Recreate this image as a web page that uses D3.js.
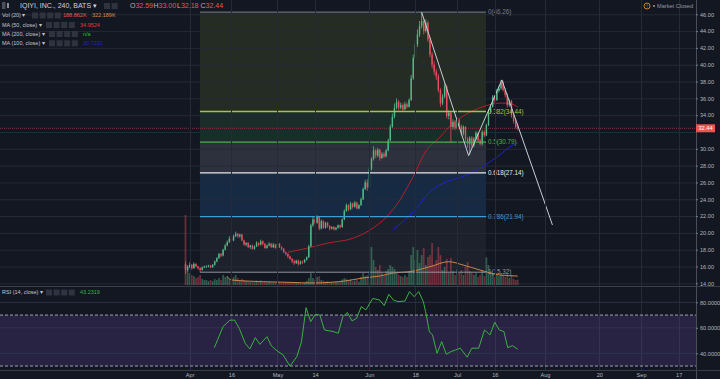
<!DOCTYPE html>
<html><head><meta charset="utf-8">
<script src="https://cdn.jsdelivr.net/npm/d3@7"></script>
<style>
html,body{margin:0;padding:0;background:#131722;overflow:hidden;}
svg{display:block;font-family:"Liberation Sans",Arial,sans-serif;}
</style></head><body>
<svg id="chart" width="720" height="379"></svg>
<script>
// ---------- DATA (240-minute bars, IQ on BATS) ----------
const opens = [16.3,15.6,15.9,16.2,15.8,16.3,16.0,15.8,15.6,15.9,
16.0,16.0,16.1,15.9,16.2,16.6,17.0,17.5,17.3,18.0,
18.5,18.9,19.3,19.1,19.6,19.9,19.6,19.8,19.1,18.6,
18.8,18.3,18.5,18.1,18.4,18.8,18.6,19.0,18.7,18.2,
18.5,18.7,18.3,18.6,18.2,18.7,18.3,18.1,17.7,17.5,
17.2,16.9,16.6,16.4,16.7,16.3,16.6,16.5,16.8,17.1,
18.4,20.9,21.6,21.2,21.9,20.5,21.4,20.6,21.2,20.8,
20.5,20.7,20.4,20.6,20.9,20.7,21.6,22.6,23.3,22.8,
23.5,23.1,23.6,22.9,23.3,24.0,25.2,26.0,25.4,27.6,
28.8,29.8,29.2,29.9,28.9,29.4,29.1,29.8,31.0,32.6,
33.8,34.9,35.6,34.9,35.2,34.7,35.3,35.0,35.8,38.4,
40.8,42.4,43.6,44.6,45.2,44.0,45.0,43.0,41.2,40.0,
39.2,38.6,37.0,35.4,36.2,37.4,33.9,34.3,32.6,33.2,
32.5,33.4,32.7,31.8,32.6,31.2,30.6,31.3,30.4,31.2,
31.9,31.0,30.6,32.0,31.6,32.8,34.4,35.0,36.2,35.8,
36.9,37.2,37.9,37.0,36.4,35.2,35.7,34.0,33.3,32.59];
const highs = [16.6,16.1,16.5,16.3,16.5,16.4,16.1,15.9,16.0,16.1,
16.15,16.2,16.2,16.3,16.7,17.1,17.6,17.6,18.1,18.7,
19.1,19.6,19.4,19.8,20.15,20.0,19.9,19.9,19.2,18.9,
18.9,18.6,18.6,18.5,19.0,18.9,19.2,19.1,18.8,18.6,
18.9,18.8,18.8,18.7,18.9,18.8,18.4,18.2,17.8,17.6,
17.3,17.0,16.8,16.8,16.8,16.7,16.7,16.9,17.2,18.6,
21.1,21.9,21.8,22.1,22.0,21.6,21.5,21.3,21.3,20.9,
20.8,20.8,20.7,21.0,21.0,21.7,22.8,23.5,23.4,23.7,
23.6,23.8,23.7,23.4,24.2,25.4,26.3,26.4,27.8,29.0,
30.3,30.0,30.1,30.0,29.6,29.6,30.0,31.2,32.9,34.2,
35.4,36.0,35.8,35.5,35.4,35.6,35.5,36.0,38.8,41.2,
42.9,44.2,45.2,46.26,45.5,45.4,45.2,43.3,41.5,40.4,
39.5,38.9,37.2,36.5,37.8,37.6,34.6,34.5,33.5,33.4,
33.7,33.6,32.9,32.8,32.7,31.4,31.5,31.5,31.4,32.1,
32.0,31.2,32.2,32.2,33.0,34.7,35.3,36.4,36.4,37.1,
37.5,38.2,38.1,37.2,36.6,35.9,35.8,34.2,33.5,33.0];
const lows = [15.1,15.4,15.8,15.6,15.7,15.9,15.6,15.32,15.5,15.8,
15.85,15.9,15.8,15.85,16.1,16.5,16.9,17.1,17.2,17.9,
18.4,18.8,18.9,19.0,19.5,19.4,19.4,19.0,18.5,18.4,
18.2,18.1,18.0,18.0,18.3,18.4,18.5,18.5,18.1,18.1,
18.4,18.2,18.2,18.1,18.1,18.2,17.9,17.6,17.3,17.0,
16.8,16.4,16.2,16.3,16.1,16.2,16.3,16.4,16.7,17.0,
18.3,20.7,21.0,21.1,20.3,20.4,20.5,20.5,20.6,20.3,
20.4,20.3,20.3,20.5,20.5,20.6,21.5,22.5,22.6,22.7,
22.9,23.0,22.8,22.8,23.2,23.9,25.1,25.0,25.3,27.4,
28.6,28.9,29.0,28.6,28.8,28.9,29.0,29.7,30.9,32.5,
33.6,34.7,34.6,34.7,34.5,34.6,34.8,34.9,35.7,38.2,
40.6,42.1,43.3,44.3,43.6,43.8,42.7,40.9,39.6,38.8,
38.2,36.7,35.0,35.2,36.0,33.6,33.5,30.8,32.3,32.2,
32.3,32.4,31.5,31.6,30.9,30.1,29.3,30.1,30.2,31.0,
30.8,30.4,30.4,31.4,31.5,32.7,34.2,34.9,35.5,35.7,
36.7,37.0,36.8,36.1,34.9,35.0,33.7,33.0,32.4,32.18];
const closes = [15.6,15.9,16.2,15.8,16.3,16.0,15.8,15.6,15.9,16.0,
16.0,16.1,15.9,16.2,16.6,17.0,17.5,17.3,18.0,18.5,
18.9,19.3,19.1,19.6,19.9,19.6,19.8,19.1,18.6,18.8,
18.3,18.5,18.1,18.4,18.8,18.6,19.0,18.7,18.2,18.5,
18.7,18.3,18.6,18.2,18.7,18.3,18.1,17.7,17.5,17.2,
16.9,16.6,16.4,16.7,16.3,16.6,16.5,16.8,17.1,18.4,
20.9,21.6,21.2,21.9,20.5,21.4,20.6,21.2,20.8,20.5,
20.7,20.4,20.6,20.9,20.7,21.6,22.6,23.3,22.8,23.5,
23.1,23.6,22.9,23.3,24.0,25.2,26.0,25.4,27.6,28.8,
29.8,29.2,29.9,28.9,29.4,29.1,29.8,31.0,32.6,33.8,
34.9,35.6,34.9,35.2,34.7,35.3,35.0,35.8,38.4,40.8,
42.4,43.6,44.6,45.2,44.0,45.0,43.0,41.2,40.0,39.2,
38.6,37.0,35.4,36.2,37.4,33.9,34.3,32.6,33.2,32.5,
33.4,32.7,31.8,32.6,31.2,30.6,31.3,30.4,31.2,31.9,
31.0,30.6,32.0,31.6,32.8,34.4,35.0,36.2,35.8,36.9,
37.2,37.9,37.0,36.4,35.2,35.7,34.0,33.3,32.59,32.44];
// volume, thousands of shares
const volumes = [2520,720,430,360,320,250,290,360,220,180,
180,140,180,140,220,180,250,180,360,290,
320,220,220,290,360,250,180,220,180,140,
150,110,130,100,160,120,170,110,140,90,
120,100,90,110,140,100,80,110,90,100,
110,80,90,70,100,60,70,80,150,250,
430,250,200,290,320,180,160,120,140,100,
110,90,120,100,130,200,250,220,150,200,
140,160,180,120,290,430,320,360,500,1370,
900,650,540,720,430,360,500,580,720,650,
580,430,360,320,290,360,290,500,1080,1370,
900,1260,790,1080,1330,720,1010,1080,1510,720,
900,1370,1080,540,650,940,430,970,500,360,
580,430,540,360,650,830,500,430,360,430,
290,360,500,320,1000,720,500,430,290,360,
320,430,360,290,430,250,360,220,180,188.862];
// indicator lines: [bar index, value]
const volMA = [[19.9,299],[22.2,180],[30,140],[37,119],[50,95],[61,72],[70,100],[76.3,144],[84.9,252],[93,324],[99.3,432],[107.4,479],[117,659],[126,839],[132.8,720],[140.9,540],[150.5,360],[159,322.189]];
const ma50 = [[49,17.7],[58,18.16],[67.6,18.76],[80,19.35],[88.3,20.34],[96.3,21.92],[102.6,23.9],[108.9,26.68],[115.4,29.85],[121.8,31.4],[128,33.06],[134.5,34.13],[142.3,35.0],[150.5,35.44],[155.3,35.4],[159,34.9524]];
const ma100 = [[99.4,20.4],[108.9,22.5],[118.4,25.2],[125.1,26.1],[132.8,26.7],[140.9,27.7],[150.5,29.3],[155,30.2],[159,30.7231]];
const rsi = [[13.8,44.4],[18,61],[21.3,66],[23.5,66],[25.7,59.6],[28.6,47.8],[30.8,43.4],[33.4,52.3],[35.6,47],[39,53],[41.1,45.8],[43.3,42.6],[46.7,38.7],[50,30],[53.3,37.4],[55.5,49],[57.7,75.8],[59.9,64.8],[62.1,70.6],[64.3,70],[66.5,58.3],[70.9,57],[73.1,55.7],[75.3,68.8],[77.5,72],[79.7,65.4],[81.9,67.5],[84.1,76.6],[86.3,74],[89.6,83],[92.9,81.8],[95.1,77.4],[97.3,86.3],[99.5,81.8],[101.7,80.5],[105,81],[107.2,88.4],[109.4,84.4],[111.6,88.4],[113.8,80.5],[114.9,72.7],[116.7,57],[118.2,54.4],[120.4,40],[122.6,49.2],[124.8,39.2],[127,41.3],[129.2,42.6],[131.5,44],[134.8,37],[137,44],[140.3,44],[143.1,58.3],[145.7,54.4],[148,64.3],[150.2,58.3],[152.4,57],[154.2,44.4],[156.4,46],[159,43.2319]];
const fibLevels = [0, 0.382, 0.5, 0.618, 0.786, 1];
const fibPrices = [46.26, 34.44, 30.79, 27.14, 21.94, 15.32];
const fibSpan = [6.9, 143.8];
const trendBars = [113, 135.5, 151.4, 175.6];
const trendPrices = [46.26, 29.18, 38.19, 20.94];
const priceTicks = [14,16,18,20,22,24,26,28,30,32,34,36,38,40,42,44,46];
const rsiTicks = [40,60,80];
const rsiBands = [30,70];
const tickBars = [2,22,44,62,88,110,130,148,172,198,218,236];
const tickLabels = ["Apr","16","May","14","Jun","18","Jul","16","Aug","20","Sep","17"];
const lastPrice = 32.44;

// ---------- STYLE ----------
const BG = "#131722", GRID = "#262a36", TXT = "#b2b5be";
const UP = "#53b987", DOWN = "#eb4d5c";
const fibLineColors = ["#787b86","#a8c63c","#4caf50","#e8e8e8","#3d9dd6","#8f929c"];
const fibZoneColors = ["rgba(165,200,60,0.12)","rgba(76,175,80,0.15)","rgba(150,150,168,0.2)","rgba(33,120,200,0.2)","rgba(120,123,134,0.1)"];
const fibLabelColors = ["#787b86","#a8c63c","#4caf50","#e8e8e8","#3d9dd6","#9598a1"];

const svg = d3.select("#chart");
const plotR = 696, mainBottom = 286, rsiTop = 287, rsiBottom = 370;

const x = d3.scaleLinear().domain([0, 244.3]).range([185.5, plotR]);
const y = d3.scaleLinear().domain([14, 46]).range([283.3, 14.3]);
const yVol = d3.scaleLinear().domain([0, 2520]).range([285, 215]);
const yRsi = d3.scaleLinear().domain([40, 80]).range([353.3, 302.3]);

svg.append("rect").attr("width",720).attr("height",379).attr("fill",BG);

const defs = svg.append("defs");
defs.append("clipPath").attr("id","mainClip").append("rect").attr("x",0).attr("y",0).attr("width",plotR).attr("height",mainBottom);
defs.append("clipPath").attr("id","rsiClip").append("rect").attr("x",0).attr("y",rsiTop).attr("width",plotR).attr("height",rsiBottom-rsiTop);

const main = svg.append("g").attr("clip-path","url(#mainClip)");

// fib zones
const fx0 = x(fibSpan[0]), fx1 = x(fibSpan[1]);
main.append("g").selectAll("rect").data(d3.range(fibPrices.length-1)).join("rect")
  .attr("x", fx0).attr("width", fx1-fx0)
  .attr("y", i => y(fibPrices[i])).attr("height", i => y(fibPrices[i+1]) - y(fibPrices[i]))
  .attr("fill", i => fibZoneColors[i]);

// grid
main.append("g").selectAll("line").data(priceTicks).join("line")
  .attr("x1",0).attr("x2",plotR).attr("y1",d=>y(d)+0.5).attr("y2",d=>y(d)+0.5)
  .attr("stroke",GRID).attr("stroke-width",1);
svg.append("g").selectAll("line").data(tickBars).join("line")
  .attr("x1",d=>Math.round(x(d))+0.5).attr("x2",d=>Math.round(x(d))+0.5).attr("y1",0).attr("y2",rsiBottom)
  .attr("stroke",GRID).attr("stroke-width",1);

// volume
const idx = d3.range(closes.length);
main.append("g").selectAll("rect").data(idx).join("rect")
  .attr("x", i => x(i)-0.85).attr("width",1.7)
  .attr("y", i => yVol(volumes[i])).attr("height", i => yVol(0)-yVol(volumes[i]))
  .attr("fill", i => closes[i] >= opens[i] ? "rgba(83,185,135,0.42)" : "rgba(235,77,92,0.42)");
main.append("path").datum(volMA)
  .attr("d", d3.line().x(d=>x(d[0])).y(d=>yVol(d[1])).curve(d3.curveMonotoneX))
  .attr("fill","none").attr("stroke","#c8894a").attr("stroke-width",1);

// last price line
main.append("line").attr("x1",0).attr("x2",plotR).attr("y1",y(lastPrice)).attr("y2",y(lastPrice))
  .attr("stroke","#8e2f3c").attr("stroke-width",1).attr("stroke-dasharray","1,1");

// moving averages
main.append("path").datum(ma50)
  .attr("d", d3.line().x(d=>x(d[0])).y(d=>y(d[1])).curve(d3.curveMonotoneX))
  .attr("fill","none").attr("stroke","#b3202a").attr("stroke-width",1);
main.append("path").datum(ma100)
  .attr("d", d3.line().x(d=>x(d[0])).y(d=>y(d[1])).curve(d3.curveMonotoneX))
  .attr("fill","none").attr("stroke","#2323c8").attr("stroke-width",1);

// candles
const cg = main.append("g");
cg.selectAll("line").data(idx).join("line")
  .attr("x1", i => x(i)).attr("x2", i => x(i))
  .attr("y1", i => y(highs[i])).attr("y2", i => y(lows[i]))
  .attr("stroke", i => closes[i] >= opens[i] ? UP : DOWN).attr("stroke-width",0.8);
cg.selectAll("rect").data(idx).join("rect")
  .attr("x", i => x(i)-0.7).attr("width",1.4)
  .attr("y", i => y(Math.max(opens[i],closes[i])))
  .attr("height", i => Math.max(0.8, Math.abs(y(opens[i])-y(closes[i]))))
  .attr("fill", i => closes[i] >= opens[i] ? UP : DOWN);

// fib lines + labels
main.append("g").selectAll("line").data(fibPrices).join("line")
  .attr("x1",fx0).attr("x2",fx1).attr("y1",d=>y(d)).attr("y2",d=>y(d))
  .attr("stroke",(d,i)=>fibLineColors[i]).attr("stroke-width",(d,i)=> i===0||i===5 ? 1 : 1.3);
main.append("g").selectAll("text").data(fibPrices).join("text")
  .attr("x",fx1+2).attr("y",d=>y(d)).attr("dy","0.35em")
  .attr("font-size",6.3).attr("fill",(d,i)=>fibLabelColors[i])
  .text((d,i)=>`${fibLevels[i]}(${d.toFixed(2)})`);

// trend lines
main.append("path").datum(d3.range(trendBars.length))
  .attr("d", d3.line().x(i=>x(trendBars[i])).y(i=>y(trendPrices[i])))
  .attr("fill","none").attr("stroke","#c9ccd4").attr("stroke-width",1);

// ---------- RSI PANE ----------
svg.append("line").attr("x1",0).attr("x2",720).attr("y1",mainBottom+0.5).attr("y2",mainBottom+0.5).attr("stroke","#3a3e4a");
const rp = svg.append("g").attr("clip-path","url(#rsiClip)");
rp.append("rect").attr("x",0).attr("width",plotR).attr("y",yRsi(rsiBands[1])).attr("height",yRsi(rsiBands[0])-yRsi(rsiBands[1]))
  .attr("fill","rgba(126,87,194,0.2)");
rp.append("g").selectAll("line").data(rsiTicks).join("line")
  .attr("x1",0).attr("x2",plotR).attr("y1",d=>yRsi(d)).attr("y2",d=>yRsi(d)).attr("stroke","#30334a");
rp.append("g").selectAll("line").data(rsiBands).join("line")
  .attr("x1",0).attr("x2",plotR).attr("y1",d=>yRsi(d)).attr("y2",d=>yRsi(d))
  .attr("stroke","#c0c0d0").attr("stroke-dasharray","3,2").attr("stroke-width",0.8);
rp.append("path").datum(rsi)
  .attr("d", d3.line().x(d=>x(d[0])).y(d=>yRsi(d[1])))
  .attr("fill","none").attr("stroke","#3cb043").attr("stroke-width",1);

// ---------- AXES ----------
svg.append("line").attr("x1",plotR+0.5).attr("x2",plotR+0.5).attr("y1",0).attr("y2",379).attr("stroke","#4a4e5a");
svg.append("line").attr("x1",0).attr("x2",720).attr("y1",rsiBottom+0.5).attr("y2",rsiBottom+0.5).attr("stroke","#3a3e4a");

// the last-price tag covers the axis label right beneath it
const visiblePriceTicks = priceTicks.filter(t => Math.abs(y(t) - y(lastPrice)) > 6);
const pa = svg.append("g").attr("transform",`translate(${plotR},0)`)
  .call(d3.axisRight(y).tickValues(visiblePriceTicks).tickFormat(d3.format(".2f")).tickSize(2).tickPadding(2));
const ra = svg.append("g").attr("transform",`translate(${plotR},0)`)
  .call(d3.axisRight(yRsi).tickValues(rsiTicks).tickFormat(d3.format(".4f")).tickSize(2).tickPadding(2));
const ta = svg.append("g").attr("transform",`translate(0,${rsiBottom})`)
  .call(d3.axisBottom(x).tickValues(tickBars).tickFormat((d,i)=>tickLabels[i]).tickSize(0).tickPadding(3));
[pa,ra,ta].forEach(g=>{
  g.select(".domain").remove();
  g.selectAll("line").attr("stroke","#787b86");
  g.selectAll("text").attr("fill",TXT).attr("font-size",5.6).attr("font-family","Liberation Sans, Arial, sans-serif");
});

// last price tag
const ly = y(lastPrice);
svg.append("rect").attr("x",plotR).attr("y",ly-4).attr("width",19).attr("height",8).attr("fill","#ef5350");
svg.append("text").attr("x",plotR+2.5).attr("y",ly).attr("dy","0.35em").attr("font-size",5.6).attr("fill","#fff").text(lastPrice.toFixed(2));

// ---------- LEGENDS ----------
const lg = svg.append("g").attr("font-size",5.5).attr("fill","#c3c6ce");
function buttons(x0, yc, n){
  for(let k=0;k<n;k++) lg.append("rect").attr("x",x0+k*7.6).attr("y",yc-3).attr("width",6).attr("height",6).attr("fill","#2f333f");
}
lg.append("rect").attr("x",2).attr("y",2).attr("width",3.5).attr("height",7).attr("fill","#4a4e5a");
lg.append("rect").attr("x",7).attr("y",3).attr("width",2).attr("height",5).attr("fill","#8a8d96");
lg.append("text").attr("x",20).attr("y",6).attr("dy","0.35em").attr("font-size",7).attr("fill","#d1d4dc").text("IQIYI, INC., 240, BATS ▾");
buttons(104,6,2);
const ohlc = [["O",opens[159]],["H",highs[159]],["L",lows[159]],["C",closes[159]]];
ohlc.forEach((p,k)=>{
  const t = lg.append("text").attr("x",130+k*23.5).attr("y",6).attr("dy","0.35em").attr("font-size",7);
  t.append("tspan").attr("fill","#b2b5be").text(p[0]);
  t.append("tspan").attr("fill","#ef5350").text(p[1].toFixed(2));
});
const rows = [
  {y:15.5, label:"Vol (20) ▾", bx:32, vals:[[63,"188.862K","#ef5350"],[92,"322.189K","#d68a4a"]]},
  {y:25, label:"MA (50, close) ▾", bx:46, vals:[[80,"34.9524","#e53935"]]},
  {y:34, label:"MA (200, close) ▾", bx:49, vals:[[83,"n/a","#22c022"]]},
  {y:43.3, label:"MA (100, close) ▾", bx:49, vals:[[83,"30.7231","#2323c8"]]},
  {y:292.5, label:"RSI (14, close) ▾", bx:46, vals:[[80,"43.2319","#3cb043"]]}
];
rows.forEach(r=>{
  lg.append("text").attr("x",2).attr("y",r.y).attr("dy","0.35em").text(r.label);
  buttons(r.bx, r.y, 4);
  r.vals.forEach(v=>lg.append("text").attr("x",v[0]).attr("y",r.y).attr("dy","0.35em").attr("fill",v[2]).text(v[1]));
});

// market closed
svg.append("circle").attr("cx",647).attr("cy",6).attr("r",3).attr("fill","none").attr("stroke","#e8862a").attr("stroke-width",0.9);
svg.append("text").attr("x",647).attr("y",6).attr("dy","0.35em").attr("text-anchor","middle").attr("font-size",5).attr("fill","#e8862a").text("!");
svg.append("circle").attr("cx",654).attr("cy",6).attr("r",1).attr("fill","#9598a1");
svg.append("text").attr("x",657).attr("y",6).attr("dy","0.35em").attr("font-size",5.6).attr("fill","#9598a1").text("Market Closed");
</script>
</body></html>
